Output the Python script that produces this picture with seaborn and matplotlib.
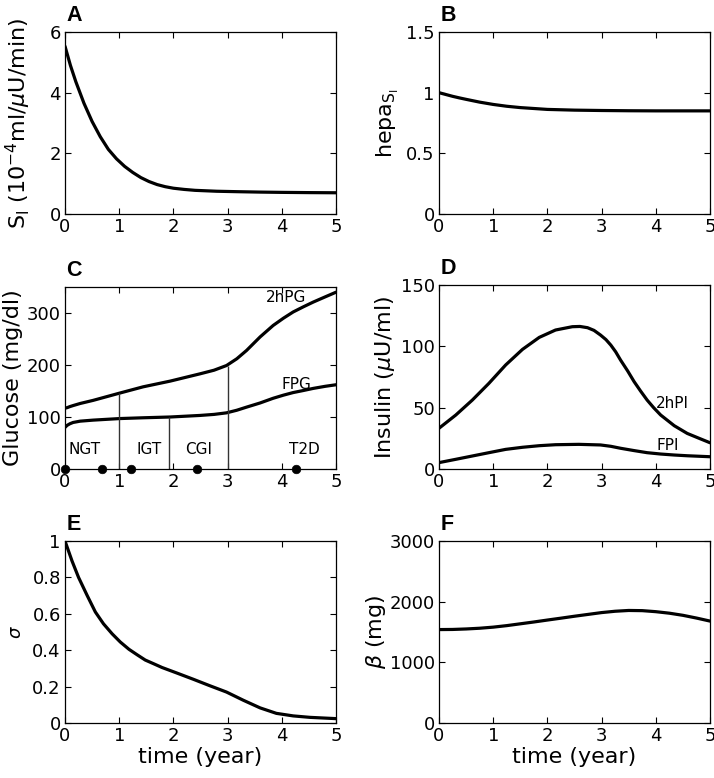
import numpy as np
import pandas as pd
import matplotlib
matplotlib.use("Agg")
import matplotlib.pyplot as plt
import seaborn as sns

# ---------------- data ----------------
t_A = [0, 0.1, 0.2, 0.35, 0.5, 0.65, 0.8, 0.95, 1.1, 1.25, 1.4, 1.55, 1.7, 1.85, 2.0,
       2.2, 2.4, 2.6, 2.8, 3.2, 3.6, 4.0, 4.5, 5.0]
SI = [5.53, 4.90, 4.36, 3.65, 3.05, 2.55, 2.13, 1.82, 1.57, 1.37, 1.2, 1.07, 0.97, 0.9, 0.85,
      0.81, 0.78, 0.765, 0.75, 0.735, 0.722, 0.713, 0.705, 0.70]

t_B = [0, 0.125, 0.25, 0.375, 0.5, 0.75, 1.0, 1.25, 1.5, 2.0, 2.5, 3.0, 3.5, 4.0, 4.5, 5.0]
hepa = [1.0, 0.985, 0.97, 0.957, 0.945, 0.922, 0.903, 0.888, 0.877, 0.862, 0.856, 0.853,
        0.851, 0.85, 0.85, 0.85]

t_C = [0, 0.04, 0.09, 0.15, 0.28, 0.52, 1.01, 1.44, 1.94, 2.49, 2.75, 2.98, 3.17, 3.35,
       3.6, 3.84, 4.03, 4.21, 4.4, 4.58, 4.8, 5.0]
PG2h = [117, 118, 120, 122, 126, 132, 146, 158, 169, 183, 190, 199, 212, 228,
        254, 276, 290, 302, 312, 321, 331, 340]
FPG = [80, 84, 87, 89.5, 92, 94, 97, 98.5, 100, 103, 105, 108, 113, 119,
       127, 136, 142, 147, 151, 155, 159, 162]
stage_bounds = [1.0, 1.92, 3.0]
stage_tops = [146, 100, 199]
stage_names = ["NGT", "IGT", "CGI", "T2D"]
stage_label_x = [0.37, 1.55, 2.46, 4.41]
stage_dots = [0, 0.69, 1.22, 2.43, 4.26]

t_D = [0, 0.31, 0.615, 0.92, 1.23, 1.54, 1.85, 2.15, 2.46, 2.6, 2.74, 2.86, 2.98, 3.08,
       3.17, 3.26, 3.35, 3.48, 3.6, 3.72, 3.84, 3.96, 4.09, 4.34, 4.58, 4.8, 5.0]
PI2h = [33.2, 44, 56.2, 69.8, 84.8, 97.5, 107.3, 113.3, 116, 116.2, 115.2, 113, 109.2, 105.5,
        101, 95.5, 88.8, 80, 71.2, 63.5, 56.2, 50, 44, 35.3, 29, 25, 21.4]
t_D2 = [0, 0.31, 0.615, 0.92, 1.23, 1.54, 1.85, 2.15, 2.58, 2.98, 3.17, 3.35, 3.6, 3.84,
        4.09, 4.34, 4.58, 5.0]
FPI = [5.2, 7.9, 10.6, 13.3, 16, 17.7, 19, 19.8, 20.1, 19.6, 18.5, 16.9, 15.0, 13.3,
       12.2, 11.4, 10.8, 10]

t_E = [0, 0.13, 0.25, 0.41, 0.56, 0.71, 0.87, 1.02, 1.18, 1.33, 1.48, 1.64, 1.79, 2.06,
       2.37, 2.67, 2.98, 3.29, 3.6, 3.9, 4.21, 4.52, 5.0]
sigma = [1.0, 0.89, 0.80, 0.70, 0.61, 0.545, 0.49, 0.445, 0.405, 0.375, 0.346, 0.325, 0.305,
         0.275, 0.24, 0.205, 0.17, 0.125, 0.083, 0.053, 0.039, 0.031, 0.024]

t_F = [0, 0.25, 0.5, 0.75, 1.0, 1.25, 1.5, 1.75, 2.0, 2.25, 2.5, 2.75, 3.0, 3.25, 3.5,
       3.75, 4.0, 4.25, 4.5, 4.75, 5.0]
beta = [1540, 1542, 1550, 1562, 1580, 1605, 1635, 1665, 1697, 1728, 1760, 1790, 1820,
        1842, 1855, 1852, 1835, 1810, 1775, 1730, 1680]

xticks = [0, 1, 2, 3, 4, 5]

# ---------------- style ----------------
sns.set_style("ticks")
plt.rcParams["font.family"] = ["DejaVu Sans"]
plt.rcParams["mathtext.fontset"] = "dejavusans"
for k in ["text.color", "axes.labelcolor", "xtick.color", "ytick.color", "axes.edgecolor"]:
    plt.rcParams[k] = "black"

fig = plt.figure(figsize=(7.14, 7.78), dpi=100)
W, H = 714, 778

def make_ax(l, t, r, b):
    return fig.add_axes([l / W, 1 - b / H, (r - l) / W, (b - t) / H])

axA = make_ax(65, 32, 336, 214)
axB = make_ax(439, 32, 710, 214)
axC = make_ax(65, 287, 336, 469)
axD = make_ax(439, 285, 710, 469)
axE = make_ax(65, 541, 336, 723)
axF = make_ax(439, 541, 710, 723)

LW = 2.3
TICKFS = 13
LABFS = 16

def line(ax, x, y):
    sns.lineplot(x=x, y=y, ax=ax, color="black", lw=LW, estimator=None, sort=False)

line(axA, t_A, SI)
line(axB, t_B, hepa)
line(axC, t_C, PG2h)
line(axC, t_C, FPG)
line(axD, t_D, PI2h)
line(axD, t_D2, FPI)
line(axE, t_E, sigma)
line(axF, t_F, beta)

# stage separators and markers in C
axC.vlines(stage_bounds, 0, stage_tops, color="#333333", lw=1.0)
for name, xp in zip(stage_names, stage_label_x):
    axC.text(xp, 38, name, ha="center", va="center", fontsize=11)
sns.scatterplot(x=stage_dots, y=[0] * len(stage_dots), ax=axC, color="black",
                s=38, edgecolor="black", zorder=5, clip_on=False)
axC.text(4.08, 329, "2hPG", ha="center", va="center", fontsize=11)
axC.text(4.27, 163, "FPG", ha="center", va="center", fontsize=11)

axD.text(4.31, 53, "2hPI", ha="center", va="center", fontsize=11)
axD.text(4.22, 19, "FPI", ha="center", va="center", fontsize=11)

limits = {
    axA: (0, 6, [0, 2, 4, 6], ["0", "2", "4", "6"]),
    axB: (0, 1.5, [0, 0.5, 1, 1.5], ["0", "0.5", "1", "1.5"]),
    axC: (0, 350, [0, 100, 200, 300], ["0", "100", "200", "300"]),
    axD: (0, 150, [0, 50, 100, 150], ["0", "50", "100", "150"]),
    axE: (0, 1, [0, 0.2, 0.4, 0.6, 0.8, 1], ["0", "0.2", "0.4", "0.6", "0.8", "1"]),
    axF: (0, 3000, [0, 1000, 2000, 3000], ["0", "1000", "2000", "3000"]),
}
for ax, (lo, hi, yt, ytl) in limits.items():
    ax.set_xlim(0, 5)
    ax.set_ylim(lo, hi)
    ax.set_xticks(xticks)
    ax.set_xticklabels([str(v) for v in xticks])
    ax.set_yticks(yt)
    ax.set_yticklabels(ytl)
    ax.tick_params(direction="in", top=True, right=True, length=4, width=0.8,
                   labelsize=TICKFS, pad=3, colors="black")
    for sp in ax.spines.values():
        sp.set_visible(True)
        sp.set_linewidth(0.9)
        sp.set_color("black")
    ax.set_xlabel("")
    ax.set_ylabel("")

axA.set_ylabel(r"S$_\mathrm{I}$ (10$^{-4}$ml/$\mu$U/min)", fontsize=LABFS)
axA.yaxis.set_label_coords(-0.118, 0.5)
axB.set_ylabel(r"hepa$_{\mathrm{S_I}}$", fontsize=LABFS)
axB.yaxis.set_label_coords(-0.14, 0.5)
axC.set_ylabel("Glucose (mg/dl)", fontsize=LABFS)
axC.yaxis.set_label_coords(-0.155, 0.5)
axD.set_ylabel(r"Insulin ($\mu$U/ml)", fontsize=LABFS)
axD.yaxis.set_label_coords(-0.155, 0.5)
axE.set_ylabel(r"$\sigma$", fontsize=13)
axE.yaxis.set_label_coords(-0.148, 0.5)
axF.set_ylabel(r"$\beta$ (mg)", fontsize=LABFS)
axF.yaxis.set_label_coords(-0.19, 0.5)

for ax in (axE, axF):
    ax.set_xlabel("time (year)", fontsize=LABFS)
    ax.xaxis.set_label_coords(0.5, -0.13)

for ax, letter in zip([axA, axB, axC, axD, axE, axF], "ABCDEF"):
    ax.text(0.005, 1.06, letter, transform=ax.transAxes, fontsize=15.5, color="black",
            fontweight="bold", family=["Liberation Sans", "DejaVu Sans"], va="baseline", ha="left")

fig.savefig("out.png", dpi=100)
